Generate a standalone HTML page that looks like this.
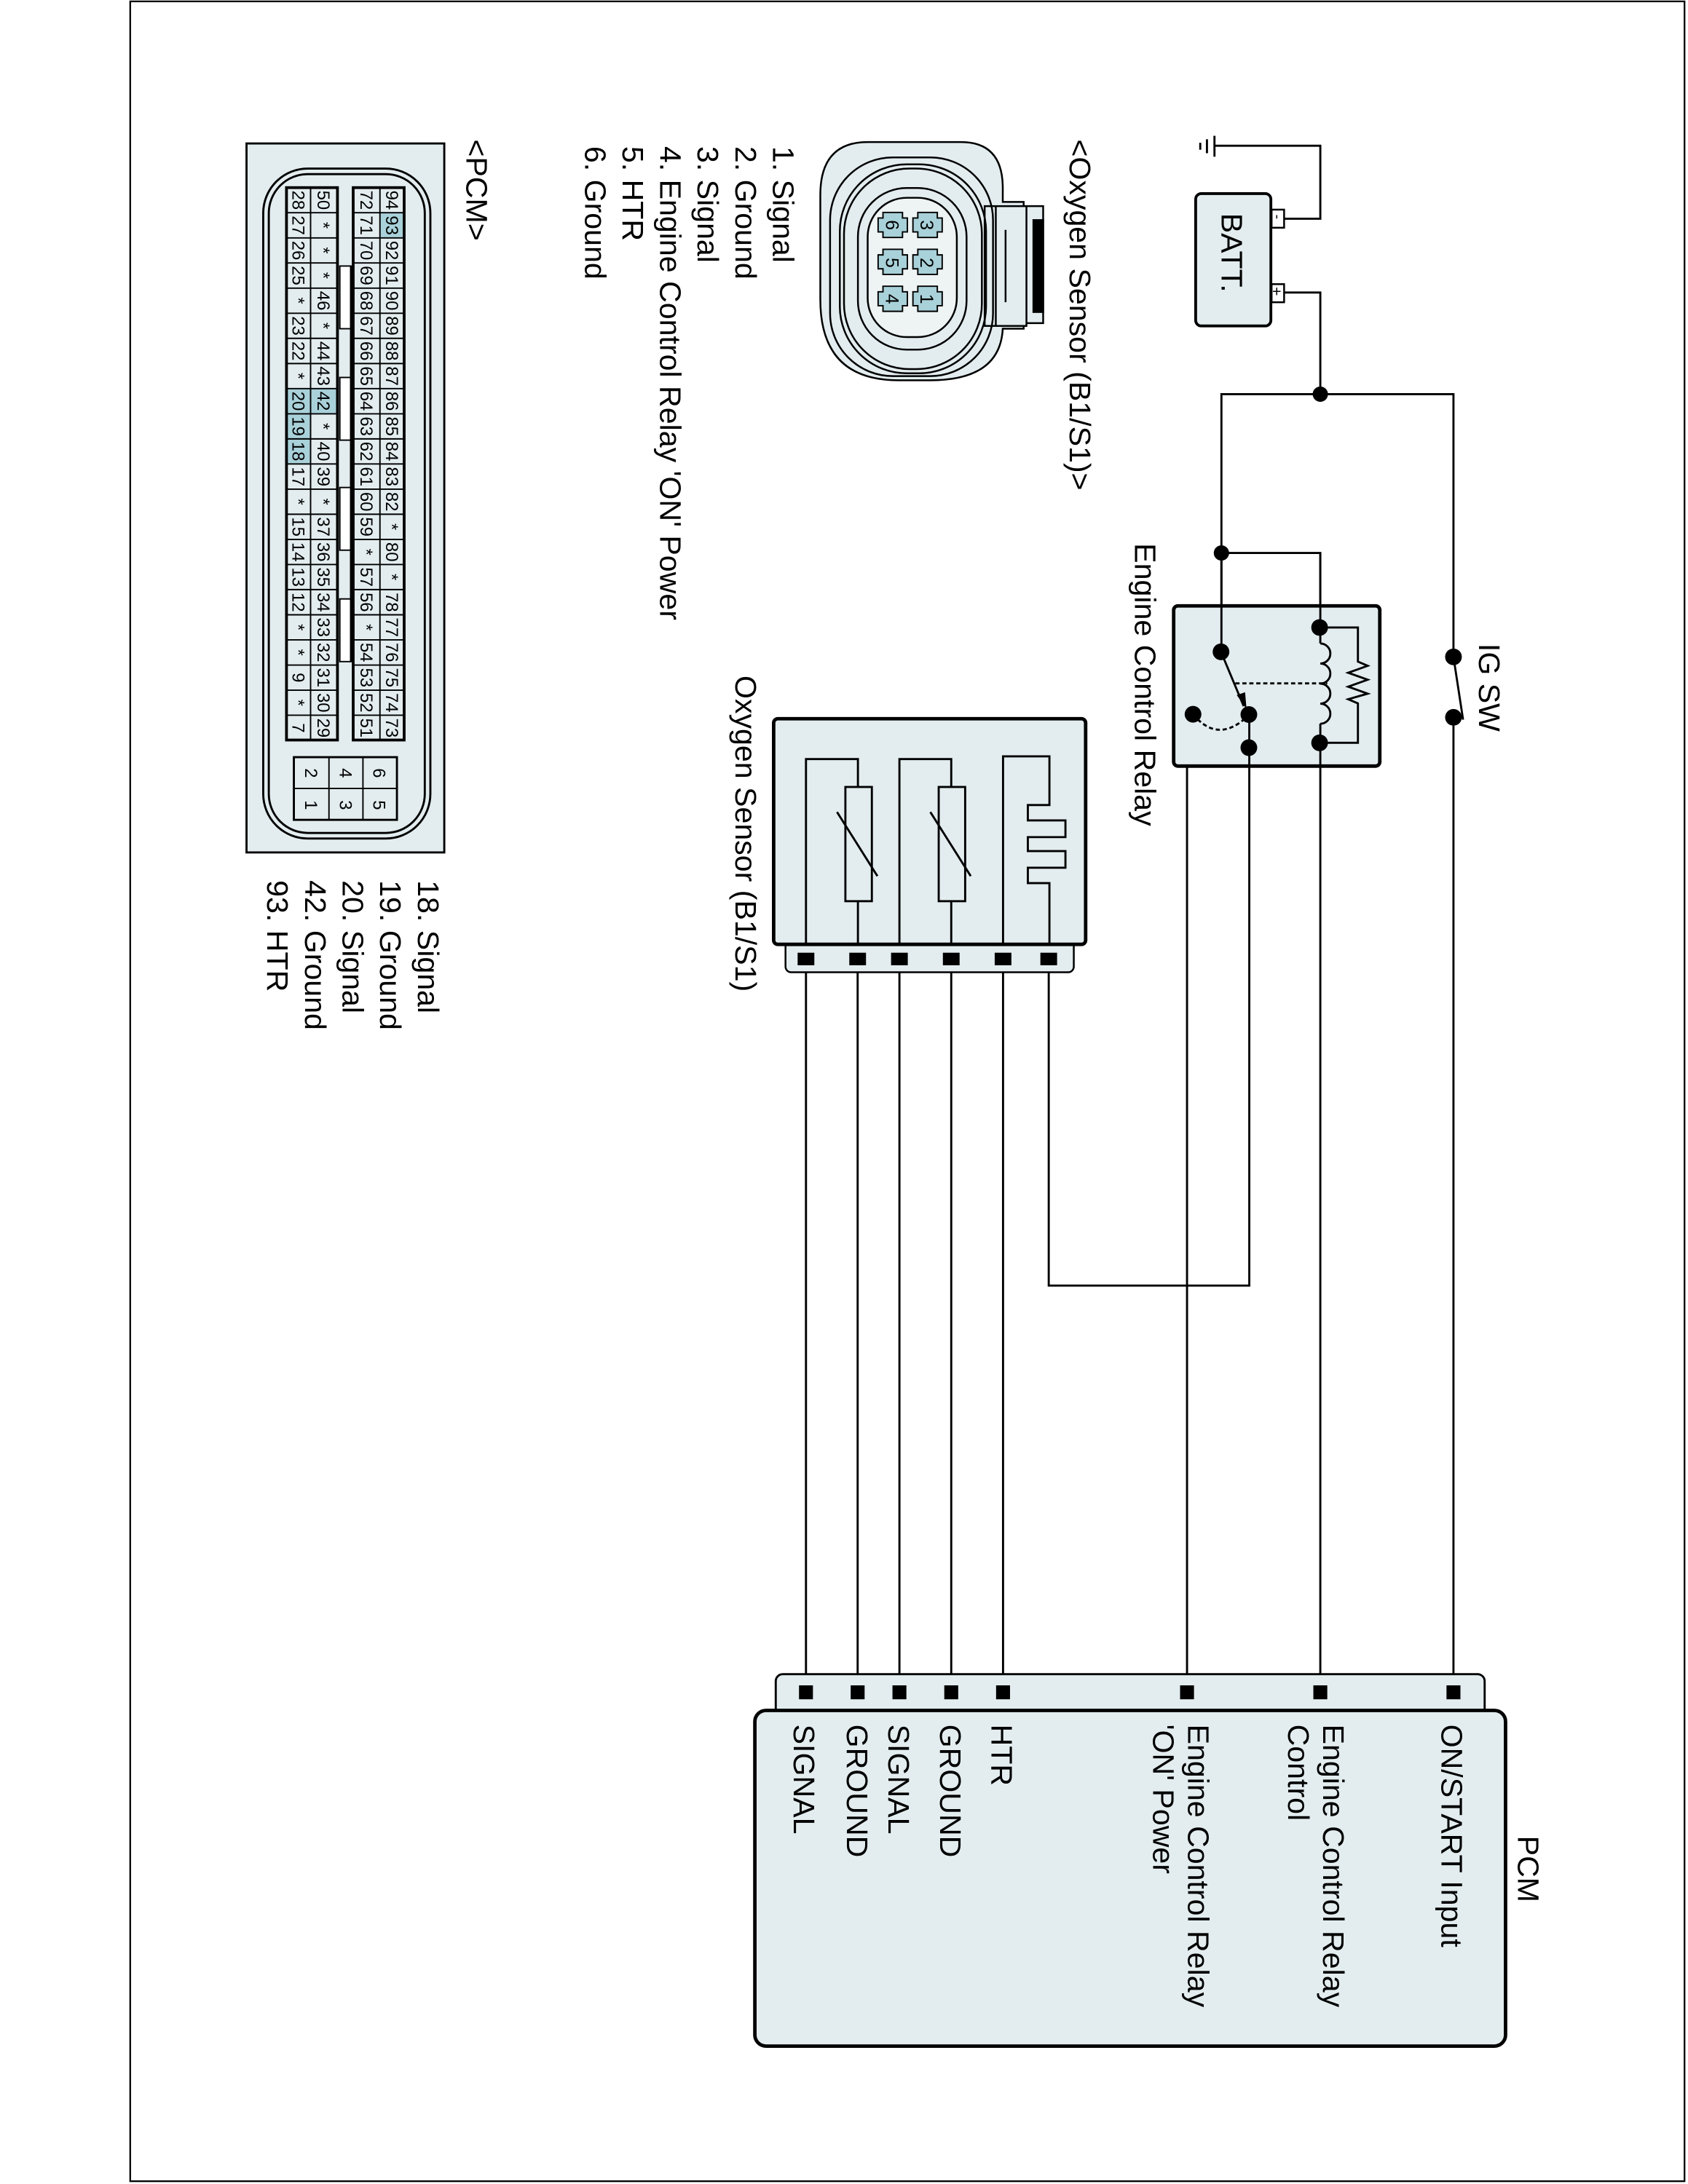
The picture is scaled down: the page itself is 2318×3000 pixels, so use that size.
<!DOCTYPE html>
<html><head><meta charset="utf-8"><style>
html,body{margin:0;padding:0;background:#fff}
svg{display:block}
text{font-family:"Liberation Sans",Arial,sans-serif;fill:#000}
.l{font-size:21.5px}
.p{font-size:12.5px}
</style></head><body>
<svg width="2318" height="3000" viewBox="0 0 1212 1568" preserveAspectRatio="none" xmlns="http://www.w3.org/2000/svg">
<rect x="0" y="0" width="1212" height="1568" fill="#fff"/>
<rect x="93.5" y="1" width="1116" height="1565" fill="none" stroke="#000" stroke-width="1.2"/>

<g fill="none" stroke="#000" stroke-width="1.5">
<!-- ground -->
<line x1="872" y1="97.5" x2="872" y2="112.5"/>
<line x1="866.6" y1="100" x2="866.6" y2="110"/>
<line x1="861.8" y1="102.5" x2="861.8" y2="107.5"/>
<polyline points="872,104.6 948,104.6 948,157 921,157"/>
<polyline points="921,210 948,210 948,283"/>
<polyline points="948,283 1043.6,283 1043.6,471"/>
<line x1="1043.6" y1="515" x2="1043.6" y2="1213"/>
<line x1="1043.6" y1="471.6" x2="1050.5" y2="516.7"/>
<polyline points="948,283 877,283 877,468"/>
<polyline points="877,397 948,397 948,1213"/>
<!-- relay outputs -->
<polyline points="897,513 897,923 753,923 753,688"/>
<polyline points="897,537 852.3,537 852.3,1213"/>
<!-- sensor wires -->
<line x1="578.7" y1="688" x2="578.7" y2="1213"/>
<line x1="615.8" y1="688" x2="615.8" y2="1213"/>
<line x1="645.8" y1="688" x2="645.8" y2="1213"/>
<line x1="683" y1="688" x2="683" y2="1213"/>
<line x1="720.2" y1="688" x2="720.2" y2="1213"/>
</g>
<g fill="#000"><circle cx="948" cy="283" r="5.5"/><circle cx="877" cy="397" r="5.5"/><circle cx="1043.6" cy="471.6" r="6"/><circle cx="1043.6" cy="515" r="6"/></g>

<!-- battery -->
<rect x="913" y="150.5" width="9" height="13" fill="#fff" stroke="#000" stroke-width="1.3"/>
<rect x="913" y="204" width="9" height="13" fill="#fff" stroke="#000" stroke-width="1.3"/>
<rect x="858.5" y="139" width="54" height="95" rx="4" fill="#e3edef" stroke="#000" stroke-width="2"/>
<text class="l" transform="translate(877,153) rotate(90)">BATT.</text>
<text transform="translate(914,154) rotate(90)" font-size="10">-</text>
<text transform="translate(913,206) rotate(90)" font-size="11">+</text>

<!-- relay -->
<rect x="842.7" y="435" width="148" height="115" rx="3" fill="#e3edef" stroke="#000" stroke-width="2.5"/>
<g fill="none" stroke="#000" stroke-width="1.5">
<line x1="877" y1="397" x2="877" y2="468"/>
<line x1="948" y1="397" x2="948" y2="462"/>
<path d="M948,462 a7,7 0 0 1 0,14.4 a7,7 0 0 1 0,14.4 a7,7 0 0 1 0,14.4 a7,7 0 0 1 0,14.4"/>
<line x1="948" y1="519.5" x2="948" y2="550"/>
<polyline points="948,450.5 975,450.5 975,475 982,478 968,483 982,488 968,493 982,498 968,502 975,505 975,533.3 948,533.3"/>
<line x1="897" y1="513" x2="897" y2="550"/>
<line x1="876.7" y1="468" x2="893" y2="507"/>
<line x1="887" y1="490.6" x2="953" y2="490.6" stroke-dasharray="3,2"/>
<path d="M856.6,512.8 Q875,535 897,513" stroke-dasharray="3,2"/>
</g>
<polygon points="895,509 888,499 894,497" fill="#000"/>
<g fill="#000"><circle cx="876.7" cy="468" r="6"/><circle cx="896.7" cy="513" r="6"/><circle cx="856.6" cy="512.8" r="6"/><circle cx="896.7" cy="536.8" r="6"/><circle cx="947.5" cy="450.5" r="6"/><circle cx="947.5" cy="533.3" r="6"/></g>

<!-- oxygen sensor component -->
<rect x="564" y="672" width="207" height="26" rx="4" fill="#e3edef" stroke="#000" stroke-width="1.3"/>
<rect x="555.5" y="516" width="224" height="162" rx="3" fill="#e3edef" stroke="#000" stroke-width="2.5"/>
<g fill="none" stroke="#000" stroke-width="1.5">
<polyline points="578.7,678 578.7,545 616,545 616,565"/>
<rect x="607" y="565" width="19" height="82"/>
<line x1="616" y1="647" x2="616" y2="678"/>
<line x1="601" y1="583" x2="630" y2="629"/>
<polyline points="645.8,678 645.8,545 683,545 683,565"/>
<rect x="674" y="565" width="19" height="82"/>
<line x1="683" y1="647" x2="683" y2="678"/>
<line x1="668" y1="583" x2="697" y2="629"/>
<polyline points="720.2,678 720.2,543 753.5,543 753.5,578 738,578 738,589 765,589 765,601 738,601 738,611 765,611 765,623 738,623 738,634 753.5,634 753.5,678"/>
</g>
<g fill="#000">
<rect x="572.7" y="684" width="12" height="9"/><rect x="609.8" y="684" width="12" height="9"/><rect x="639.8" y="684" width="12" height="9"/><rect x="677" y="684" width="12" height="9"/><rect x="714.2" y="684" width="12" height="9"/><rect x="747" y="684" width="12" height="9"/>
</g>

<!-- PCM -->
<rect x="557" y="1202" width="509" height="34" rx="5" fill="#e3edef" stroke="#000" stroke-width="1.5"/>
<rect x="542" y="1228" width="539" height="241" rx="8" fill="#e3edef" stroke="#000" stroke-width="2.5"/>
<g fill="#000">
<rect x="573.7" y="1210" width="10" height="10"/><rect x="610.8" y="1210" width="10" height="10"/><rect x="640.8" y="1210" width="10" height="10"/><rect x="678" y="1210" width="10" height="10"/><rect x="715.2" y="1210" width="10" height="10"/><rect x="847.3" y="1210" width="10" height="10"/><rect x="943" y="1210" width="10" height="10"/><rect x="1038.6" y="1210" width="10" height="10"/>
</g>
<text class="l" transform="translate(1090,1318) rotate(90)">PCM</text>
<text class="l" transform="translate(1035,1238) rotate(90)">ON/START Input</text>
<text class="l" transform="translate(950,1238) rotate(90)">Engine Control Relay</text>
<text class="l" transform="translate(925,1238) rotate(90)">Control</text>
<text class="l" transform="translate(853,1238) rotate(90)">Engine Control Relay</text>
<text class="l" transform="translate(828,1238) rotate(90)">'ON' Power</text>
<text class="l" transform="translate(712,1238) rotate(90)">HTR</text>
<text class="l" transform="translate(675,1238) rotate(90)">GROUND</text>
<text class="l" transform="translate(638,1238) rotate(90)">SIGNAL</text>
<text class="l" transform="translate(608,1238) rotate(90)">GROUND</text>
<text class="l" transform="translate(570,1238) rotate(90)">SIGNAL</text>

<!-- labels -->
<text class="l" transform="translate(815,390) rotate(90)">Engine Control Relay</text>
<text class="l" transform="translate(1062,462) rotate(90)">IG SW</text>
<text class="l" transform="translate(528,485) rotate(90)">Oxygen Sensor (B1/S1)</text>
<text class="l" transform="translate(768,100) rotate(90)">&lt;Oxygen Sensor (B1/S1)&gt;</text>
<text class="l" transform="translate(555,105) rotate(90)">1. Signal</text>
<text class="l" transform="translate(528,105) rotate(90)">2. Ground</text>
<text class="l" transform="translate(501,105) rotate(90)">3. Signal</text>
<text class="l" transform="translate(474,105) rotate(90)">4. Engine Control Relay 'ON' Power</text>
<text class="l" transform="translate(447,105) rotate(90)">5. HTR</text>
<text class="l" transform="translate(420,105) rotate(90)">6. Ground</text>
<text class="l" transform="translate(335,100) rotate(90)">&lt;PCM&gt;</text>
<text class="l" transform="translate(300,632) rotate(90)">18. Signal</text>
<text class="l" transform="translate(273,632) rotate(90)">19. Ground</text>
<text class="l" transform="translate(246,632) rotate(90)">20. Signal</text>
<text class="l" transform="translate(219,632) rotate(90)">42. Ground</text>
<text class="l" transform="translate(192,632) rotate(90)">93. HTR</text>

<!-- O2 connector drawing -->
<g stroke="#000" stroke-width="1.3">
<path d="M623,102 H690 Q720,102 720,135 V145 H735 V148 H749 V232 H735 V236 H720 Q718,273 668,273 H645 Q589,273 589,215 V140 Q589,102 623,102 Z" fill="#e3edef"/>
<rect x="707" y="148" width="30" height="86" fill="#e3edef"/>
<rect x="742" y="158" width="7" height="66" fill="#000"/>
<line x1="715" y1="148" x2="715" y2="234" fill="none"/>
<line x1="722" y1="165" x2="722" y2="217" fill="none"/>
<rect x="596" y="113" width="117" height="157" rx="45" fill="none"/>
<rect x="603" y="118" width="105" height="150" rx="48" fill="none"/>
<rect x="606" y="121" width="99" height="144" rx="47" fill="none"/>
<rect x="616" y="135" width="78" height="116" rx="35" fill="none"/>
<rect x="623" y="142" width="64" height="100" rx="28" fill="#eef3f4"/>
</g>
<g fill="#a9d1d9" stroke="#000" stroke-width="1">
<path d="M634,152.5 h14 v4 h3.5 v10 h-3.5 v4 h-14 v-4 h-3.5 v-10 h3.5 z"/>
<path d="M659,152.5 h14 v4 h3.5 v10 h-3.5 v4 h-14 v-4 h-3.5 v-10 h3.5 z"/>
<path d="M634,179 h14 v4 h3.5 v10 h-3.5 v4 h-14 v-4 h-3.5 v-10 h3.5 z"/>
<path d="M659,179 h14 v4 h3.5 v10 h-3.5 v4 h-14 v-4 h-3.5 v-10 h3.5 z"/>
<path d="M634,205.5 h14 v4 h3.5 v10 h-3.5 v4 h-14 v-4 h-3.5 v-10 h3.5 z"/>
<path d="M659,205.5 h14 v4 h3.5 v10 h-3.5 v4 h-14 v-4 h-3.5 v-10 h3.5 z"/>
</g>
<g font-size="13">
<text transform="translate(636,158) rotate(90)">6</text><text transform="translate(661,158) rotate(90)">3</text>
<text transform="translate(636,185) rotate(90)">5</text><text transform="translate(661,185) rotate(90)">2</text>
<text transform="translate(636,211) rotate(90)">4</text><text transform="translate(661,211) rotate(90)">1</text>
</g>

<!-- PCM connector -->
<rect x="177" y="103" width="142" height="509" fill="#e3edef" stroke="#000" stroke-width="1.5"/>
<rect x="189" y="121" width="120" height="481" rx="32" fill="none" stroke="#000" stroke-width="1.5"/>
<rect x="193" y="125" width="112" height="473" rx="28" fill="none" stroke="#000" stroke-width="1.5"/>
<g fill="#a9d1d9">
<rect x="272.8" y="152.7" width="17.4" height="18"/>
<rect x="223" y="279" width="19.3" height="18"/>
<rect x="205.7" y="279" width="17.3" height="54.1"/>
</g>
<g fill="none" stroke="#000" stroke-width="1">
<rect x="205.7" y="134.7" width="36.6" height="396.6" stroke-width="2"/>
<rect x="253.6" y="134.7" width="36.6" height="396.6" stroke-width="2"/>
<line x1="223" y1="134.7" x2="223" y2="531.3"/>
<line x1="272.8" y1="134.7" x2="272.8" y2="531.3"/>
<path d="M205.7,152.7H242.3M205.7,170.8H242.3M205.7,188.8H242.3M205.7,206.9H242.3M205.7,224.9H242.3M205.7,242.9H242.3M205.7,261H242.3M205.7,279H242.3M205.7,297.1H242.3M205.7,315.1H242.3M205.7,333.1H242.3M205.7,351.2H242.3M205.7,369.2H242.3M205.7,387.3H242.3M205.7,405.3H242.3M205.7,423.3H242.3M205.7,441.4H242.3M205.7,459.4H242.3M205.7,477.5H242.3M205.7,495.5H242.3M205.7,513.5H242.3"/>
<path d="M253.6,152.7H290.2M253.6,170.8H290.2M253.6,188.8H290.2M253.6,206.9H290.2M253.6,224.9H290.2M253.6,242.9H290.2M253.6,261H290.2M253.6,279H290.2M253.6,297.1H290.2M253.6,315.1H290.2M253.6,333.1H290.2M253.6,351.2H290.2M253.6,369.2H290.2M253.6,387.3H290.2M253.6,405.3H290.2M253.6,423.3H290.2M253.6,441.4H290.2M253.6,459.4H290.2M253.6,477.5H290.2M253.6,495.5H290.2M253.6,513.5H290.2"/>
<rect x="244" y="191" width="8" height="45" fill="#fff"/>
<rect x="244" y="271" width="8" height="45" fill="#fff"/>
<rect x="244" y="350" width="8" height="45" fill="#fff"/>
<rect x="244" y="430" width="8" height="45" fill="#fff"/>
<line x1="252.5" y1="191" x2="252.5" y2="475" stroke-width="2.5"/>
<rect x="211" y="543.6" width="74" height="45" stroke-width="1.5"/>
<line x1="236.2" y1="543.6" x2="236.2" y2="588.6"/>
<line x1="260.6" y1="543.6" x2="260.6" y2="588.6"/>
<line x1="211" y1="566.1" x2="285" y2="566.1"/>
</g>
<g class="p" text-anchor="middle" font-size="12.5">
<text transform="translate(219,555) rotate(90)">2</text><text transform="translate(219,578) rotate(90)">1</text>
<text transform="translate(244,555) rotate(90)">4</text><text transform="translate(244,578) rotate(90)">3</text>
<text transform="translate(268,555) rotate(90)">6</text><text transform="translate(268,578) rotate(90)">5</text>
</g>
<g class="p" text-anchor="middle">
<!-- col A x=210 -->
<text transform="translate(210,143.7) rotate(90)">28</text>
<text transform="translate(210,161.8) rotate(90)">27</text>
<text transform="translate(210,179.8) rotate(90)">26</text>
<text transform="translate(210,197.8) rotate(90)">25</text>
<text transform="translate(210,215.9) rotate(90)">*</text>
<text transform="translate(210,233.9) rotate(90)">23</text>
<text transform="translate(210,252) rotate(90)">22</text>
<text transform="translate(210,270) rotate(90)">*</text>
<text transform="translate(210,288) rotate(90)">20</text>
<text transform="translate(210,306.1) rotate(90)">19</text>
<text transform="translate(210,324.1) rotate(90)">18</text>
<text transform="translate(210,342.2) rotate(90)">17</text>
<text transform="translate(210,360.2) rotate(90)">*</text>
<text transform="translate(210,378.2) rotate(90)">15</text>
<text transform="translate(210,396.3) rotate(90)">14</text>
<text transform="translate(210,414.3) rotate(90)">13</text>
<text transform="translate(210,432.4) rotate(90)">12</text>
<text transform="translate(210,450.4) rotate(90)">*</text>
<text transform="translate(210,468.4) rotate(90)">*</text>
<text transform="translate(210,486.5) rotate(90)">9</text>
<text transform="translate(210,504.5) rotate(90)">*</text>
<text transform="translate(210,522.6) rotate(90)">7</text>
<!-- col B x=228 -->
<text transform="translate(228,143.7) rotate(90)">50</text>
<text transform="translate(228,161.8) rotate(90)">*</text>
<text transform="translate(228,179.8) rotate(90)">*</text>
<text transform="translate(228,197.8) rotate(90)">*</text>
<text transform="translate(228,215.9) rotate(90)">46</text>
<text transform="translate(228,233.9) rotate(90)">*</text>
<text transform="translate(228,252) rotate(90)">44</text>
<text transform="translate(228,270) rotate(90)">43</text>
<text transform="translate(228,288) rotate(90)">42</text>
<text transform="translate(228,306.1) rotate(90)">*</text>
<text transform="translate(228,324.1) rotate(90)">40</text>
<text transform="translate(228,342.2) rotate(90)">39</text>
<text transform="translate(228,360.2) rotate(90)">*</text>
<text transform="translate(228,378.2) rotate(90)">37</text>
<text transform="translate(228,396.3) rotate(90)">36</text>
<text transform="translate(228,414.3) rotate(90)">35</text>
<text transform="translate(228,432.4) rotate(90)">34</text>
<text transform="translate(228,450.4) rotate(90)">33</text>
<text transform="translate(228,468.4) rotate(90)">32</text>
<text transform="translate(228,486.5) rotate(90)">31</text>
<text transform="translate(228,504.5) rotate(90)">30</text>
<text transform="translate(228,522.6) rotate(90)">29</text>
<!-- col C x=258.7 -->
<text transform="translate(258.7,143.7) rotate(90)">72</text>
<text transform="translate(258.7,161.8) rotate(90)">71</text>
<text transform="translate(258.7,179.8) rotate(90)">70</text>
<text transform="translate(258.7,197.8) rotate(90)">69</text>
<text transform="translate(258.7,215.9) rotate(90)">68</text>
<text transform="translate(258.7,233.9) rotate(90)">67</text>
<text transform="translate(258.7,252) rotate(90)">66</text>
<text transform="translate(258.7,270) rotate(90)">65</text>
<text transform="translate(258.7,288) rotate(90)">64</text>
<text transform="translate(258.7,306.1) rotate(90)">63</text>
<text transform="translate(258.7,324.1) rotate(90)">62</text>
<text transform="translate(258.7,342.2) rotate(90)">61</text>
<text transform="translate(258.7,360.2) rotate(90)">60</text>
<text transform="translate(258.7,378.2) rotate(90)">59</text>
<text transform="translate(258.7,396.3) rotate(90)">*</text>
<text transform="translate(258.7,414.3) rotate(90)">57</text>
<text transform="translate(258.7,432.4) rotate(90)">56</text>
<text transform="translate(258.7,450.4) rotate(90)">*</text>
<text transform="translate(258.7,468.4) rotate(90)">54</text>
<text transform="translate(258.7,486.5) rotate(90)">53</text>
<text transform="translate(258.7,504.5) rotate(90)">52</text>
<text transform="translate(258.7,522.6) rotate(90)">51</text>
<!-- col D x=277 -->
<text transform="translate(277,143.7) rotate(90)">94</text>
<text transform="translate(277,161.8) rotate(90)">93</text>
<text transform="translate(277,179.8) rotate(90)">92</text>
<text transform="translate(277,197.8) rotate(90)">91</text>
<text transform="translate(277,215.9) rotate(90)">90</text>
<text transform="translate(277,233.9) rotate(90)">89</text>
<text transform="translate(277,252) rotate(90)">88</text>
<text transform="translate(277,270) rotate(90)">87</text>
<text transform="translate(277,288) rotate(90)">86</text>
<text transform="translate(277,306.1) rotate(90)">85</text>
<text transform="translate(277,324.1) rotate(90)">84</text>
<text transform="translate(277,342.2) rotate(90)">83</text>
<text transform="translate(277,360.2) rotate(90)">82</text>
<text transform="translate(277,378.2) rotate(90)">*</text>
<text transform="translate(277,396.3) rotate(90)">80</text>
<text transform="translate(277,414.3) rotate(90)">*</text>
<text transform="translate(277,432.4) rotate(90)">78</text>
<text transform="translate(277,450.4) rotate(90)">77</text>
<text transform="translate(277,468.4) rotate(90)">76</text>
<text transform="translate(277,486.5) rotate(90)">75</text>
<text transform="translate(277,504.5) rotate(90)">74</text>
<text transform="translate(277,522.6) rotate(90)">73</text>
</g>
</svg>
</body></html>
